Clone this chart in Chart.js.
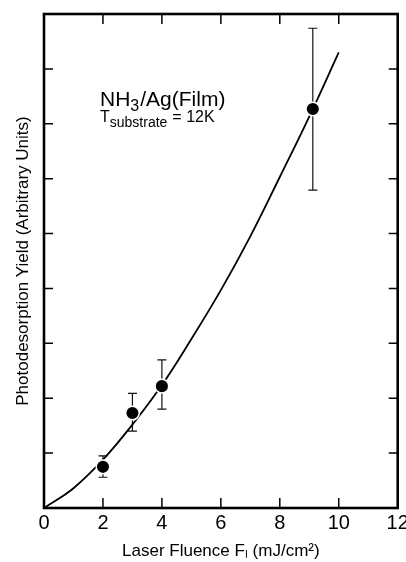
<!DOCTYPE html>
<html>
<head>
<meta charset="utf-8">
<script src="https://cdn.jsdelivr.net/npm/chart.js@4"></script>
<style>
  html, body { margin: 0; padding: 0; background: #fff; }
  #wrap { width: 406px; height: 562px; }
</style>
</head>
<body>
<div id="wrap"><canvas id="yieldChart" width="406" height="562"></canvas></div>
<script>
// measured points (laser fluence, mJ/cm2) and yields with error bar limits
const fluence = [2, 3, 4, 9.12];
const yieldVals = [0.75, 1.73, 2.22, 7.27];
const errHigh = [0.95, 2.09, 2.70, 8.74];
const errLow = [0.56, 1.40, 1.80, 5.79];

// fitted curve
const fitX = [0, 1, 2, 3, 4, 5, 6, 7, 8, 9, 10];
const fitY = [0, 0.36, 0.88, 1.52, 2.24, 3.08, 3.97, 4.95, 6.03, 7.13, 8.3];

const xTicks = [2, 4, 6, 8, 10];
const yTicks = [1, 2, 3, 4, 5, 6, 7, 8];

const FONT = '"Liberation Sans", Arial, Helvetica, sans-serif';

const bgPlugin = {
    id: 'bg',
    beforeDraw(chart) {
        const ctx = chart.ctx;
        ctx.save();
        ctx.fillStyle = '#fff';
        ctx.fillRect(0, 0, chart.width, chart.height);
        ctx.restore();
    }
};

const errorBars = {
    id: 'errorBars',
    beforeDatasetsDraw(chart) {
        const ctx = chart.ctx;
        const xs = chart.scales.x, ys = chart.scales.y;
        ctx.save();
        ctx.strokeStyle = '#111';
        ctx.lineWidth = 1.2;
        fluence.forEach((f, i) => {
            const px = xs.getPixelForValue(f);
            const top = ys.getPixelForValue(errHigh[i]);
            const bot = ys.getPixelForValue(errLow[i]);
            ctx.beginPath();
            ctx.moveTo(px, top); ctx.lineTo(px, bot);
            ctx.moveTo(px - 4.5, top); ctx.lineTo(px + 4.5, top);
            ctx.moveTo(px - 4.5, bot); ctx.lineTo(px + 4.5, bot);
            ctx.stroke();
        });
        ctx.restore();
    }
};

const frame = {
    id: 'frame',
    afterDraw(chart) {
        const ctx = chart.ctx;
        const a = chart.chartArea;
        const xs = chart.scales.x, ys = chart.scales.y;
        ctx.save();
        ctx.strokeStyle = '#000';
        ctx.lineWidth = 1.5;
        ctx.beginPath();
        yTicks.forEach(v => {
            const py = ys.getPixelForValue(v);
            ctx.moveTo(a.left, py); ctx.lineTo(a.left + 9, py);
            ctx.moveTo(a.right, py); ctx.lineTo(a.right - 9, py);
        });
        xTicks.forEach(v => {
            const px = xs.getPixelForValue(v);
            ctx.moveTo(px, a.bottom); ctx.lineTo(px, a.bottom - 10);
            ctx.moveTo(px, a.top); ctx.lineTo(px, a.top + 10);
        });
        ctx.stroke();
        ctx.lineWidth = 2.6;
        ctx.strokeRect(a.left, a.top, a.right - a.left, a.bottom - a.top);

        // annotation
        ctx.fillStyle = '#000';
        ctx.textBaseline = 'alphabetic';
        let x = 100;
        ctx.font = '21px ' + FONT;
        ctx.fillText('NH', x, 106);
        x += ctx.measureText('NH').width;
        ctx.font = '16px ' + FONT;
        ctx.fillText('3', x, 111);
        x += ctx.measureText('3').width + 1;
        ctx.font = '21px ' + FONT;
        ctx.fillText('/Ag(Film)', x, 106);

        x = 100;
        ctx.font = '16px ' + FONT;
        ctx.fillText('T', x, 122);
        x += ctx.measureText('T').width;
        ctx.font = '14px ' + FONT;
        ctx.fillText('substrate', x, 127);
        x += ctx.measureText('substrate').width + 5;
        ctx.font = '16px ' + FONT;
        ctx.fillText('= 12K', x, 122);
        ctx.restore();
    }
};

function initChart() {
    const ctx = document.getElementById('yieldChart').getContext('2d');
    new Chart(ctx, {
        type: 'scatter',
        data: {
            datasets: [{
                label: 'fit',
                data: fitX.map((x, i) => ({ x: x, y: fitY[i] })),
                showLine: true,
                borderColor: '#000',
                borderWidth: 1.8,
                pointRadius: 0,
                tension: 0.4,
                order: 2
            }, {
                label: 'data',
                data: fluence.map((x, i) => ({ x: x, y: yieldVals[i] })),
                pointRadius: 6.8,
                backgroundColor: '#000',
                borderColor: '#fff',
                borderWidth: 1.5,
                order: 1
            }]
        },
        options: {
            responsive: false,
            animation: false,
            layout: { padding: { top: 14, right: 8, left: 0, bottom: 0 } },
            plugins: {
                legend: { display: false },
                tooltip: { enabled: false }
            },
            scales: {
                x: {
                    type: 'linear',
                    min: 0,
                    max: 12,
                    grid: { display: false },
                    border: { display: false },
                    ticks: {
                        stepSize: 2,
                        color: '#000',
                        padding: -5,
                        maxRotation: 0,
                        font: { family: FONT, size: 20 }
                    },
                    title: {
                        display: true,
                        text: 'Laser Fluence F\u2097 (mJ/cm\u00b2)',
                        color: '#000',
                        padding: 0,
                        font: { family: FONT, size: 17 }
                    },
                    afterFit(scale) {
                        scale.height = 54;
                        scale.paddingLeft = 0;
                        scale.paddingRight = 0;
                    }
                },
                y: {
                    type: 'linear',
                    min: 0,
                    max: 9,
                    grid: { display: false },
                    border: { display: false },
                    ticks: { display: false, stepSize: 1 },
                    title: {
                        display: true,
                        text: 'Photodesorption Yield (Arbitrary Units)',
                        color: '#000',
                        padding: { top: 13, bottom: 0 },
                        font: { family: FONT, size: 17 }
                    },
                    afterFit(scale) {
                        scale.width = 44;
                    }
                }
            }
        },
        plugins: [bgPlugin, errorBars, frame]
    });
}

window.onload = initChart;
</script>
</body>
</html>
